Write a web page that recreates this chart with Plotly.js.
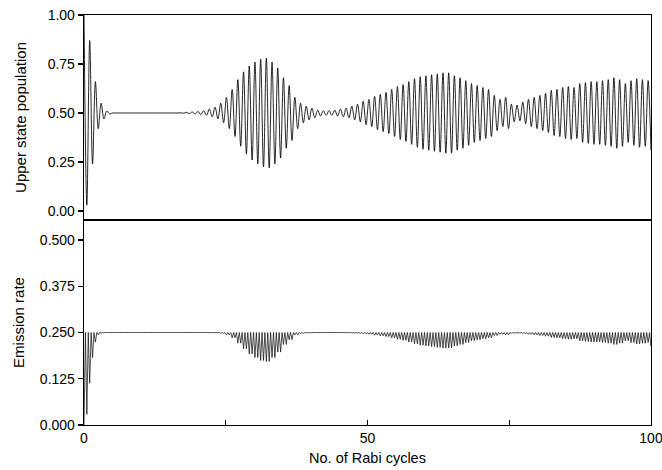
<!DOCTYPE html>
<html>
<head>
<meta charset="utf-8">
<script src="https://cdn.plot.ly/plotly-3.0.1.min.js"></script>
<style>
html,body{margin:0;padding:0;background:#fff}
#chart{width:662px;height:470px}
</style>
</head>
<body>
<div id="chart"></div>
<script>
// Rabi cycle index (one maximum and one minimum of the upper state population per cycle)
const cycleNo = [0,1,2,3,4,5,6,7,8,9,10,11,12,13,14,15,16,17,18,19,
  20,21,22,23,24,25,26,27,28,29,30,31,32,33,34,35,36,37,38,39,
  40,41,42,43,44,45,46,47,48,49,50,51,52,53,54,55,56,57,58,59,
  60,61,62,63,64,65,66,67,68,69,70,71,72,73,74,75,76,77,78,79,
  80,81,82,83,84,85,86,87,88,89,90,91,92,93,94,95,96,97,98,99];

// Upper state population at the maximum of each cycle
const popAtMax = [1.00,0.87,0.66,0.55,0.51,0.50,0.50,0.50,0.50,0.50,
  0.50,0.50,0.50,0.50,0.50,0.50,0.50,0.501,0.503,0.505,
  0.508,0.512,0.52,0.53,0.55,0.58,0.62,0.67,0.71,0.74,
  0.76,0.775,0.78,0.76,0.73,0.68,0.64,0.58,0.55,0.535,
  0.525,0.515,0.512,0.512,0.515,0.52,0.525,0.535,0.545,0.56,
  0.57,0.585,0.595,0.605,0.62,0.635,0.645,0.66,0.675,0.685,
  0.69,0.695,0.70,0.705,0.705,0.69,0.68,0.665,0.65,0.64,
  0.63,0.62,0.59,0.57,0.58,0.545,0.54,0.555,0.57,0.58,
  0.59,0.60,0.615,0.62,0.63,0.635,0.63,0.65,0.655,0.66,
  0.66,0.665,0.67,0.68,0.67,0.65,0.665,0.675,0.67,0.665];

// Upper state population at the minimum of each cycle
const popAtMin = [0.03,0.24,0.42,0.47,0.495,0.50,0.50,0.50,0.50,0.50,
  0.50,0.50,0.50,0.50,0.50,0.50,0.50,0.499,0.497,0.495,
  0.492,0.488,0.48,0.47,0.45,0.42,0.38,0.33,0.29,0.26,
  0.24,0.225,0.22,0.24,0.27,0.32,0.36,0.42,0.45,0.465,
  0.475,0.485,0.488,0.488,0.485,0.48,0.475,0.465,0.455,0.44,
  0.43,0.415,0.405,0.395,0.38,0.365,0.355,0.34,0.325,0.315,
  0.31,0.305,0.30,0.295,0.295,0.31,0.32,0.335,0.35,0.36,
  0.37,0.38,0.41,0.43,0.42,0.455,0.46,0.445,0.43,0.42,
  0.41,0.40,0.385,0.38,0.37,0.365,0.37,0.35,0.345,0.34,
  0.34,0.335,0.33,0.32,0.33,0.35,0.335,0.325,0.33,0.31];

// Emission rate at the population maximum of each cycle
const emissionAtMax = [0.000,0.113,0.224,0.248,0.250,0.250,0.250,0.250,0.250,0.250,
  0.250,0.250,0.250,0.250,0.250,0.250,0.250,0.250,0.250,0.250,
  0.2499,0.2499,0.2496,0.2491,0.2475,0.2436,0.2356,0.2211,0.2059,0.1924,
  0.1824,0.1744,0.1716,0.1824,0.1971,0.2176,0.2304,0.2436,0.2475,0.2488,
  0.2494,0.2498,0.2499,0.2499,0.2498,0.2496,0.2494,0.2488,0.248,0.2464,
  0.2451,0.2428,0.241,0.239,0.2356,0.2318,0.229,0.2244,0.2194,0.2158,
  0.2139,0.212,0.21,0.208,0.208,0.2139,0.2176,0.2228,0.2275,0.2304,
  0.2331,0.2356,0.2419,0.2451,0.2436,0.248,0.2484,0.247,0.2451,0.2436,
  0.2419,0.24,0.2368,0.2356,0.2331,0.2318,0.2331,0.2275,0.226,0.2244,
  0.2244,0.2228,0.2211,0.2176,0.2211,0.2275,0.2228,0.2194,0.2211,0.2228];

// Emission rate at the population minimum of each cycle
const emissionAtMin = [0.029,0.182,0.244,0.249,0.250,0.250,0.250,0.250,0.250,0.250,
  0.250,0.250,0.250,0.250,0.250,0.250,0.250,0.250,0.250,0.250,
  0.2499,0.2499,0.2496,0.2491,0.2475,0.2436,0.2356,0.2211,0.2059,0.1924,
  0.1824,0.1744,0.1716,0.1824,0.1971,0.2176,0.2304,0.2436,0.2475,0.2488,
  0.2494,0.2498,0.2499,0.2499,0.2498,0.2496,0.2494,0.2488,0.248,0.2464,
  0.2451,0.2428,0.241,0.239,0.2356,0.2318,0.229,0.2244,0.2194,0.2158,
  0.2139,0.212,0.21,0.208,0.208,0.2139,0.2176,0.2228,0.2275,0.2304,
  0.2331,0.2356,0.2419,0.2451,0.2436,0.248,0.2484,0.247,0.2451,0.2436,
  0.2419,0.24,0.2368,0.2356,0.2331,0.2318,0.2331,0.2275,0.226,0.2244,
  0.2244,0.2228,0.2211,0.2176,0.2211,0.2275,0.2228,0.2194,0.2211,0.2139];

// Emission rate where the population crosses one half
const emissionAtCrossing = 0.25;

const xTickVals = [0, 25, 50, 75, 100];
const xTickText = ['0', '', '50', '', '100'];
const popTickVals = [0, 0.25, 0.5, 0.75, 1.0];
const emissionTickVals = [0, 0.125, 0.25, 0.375, 0.5];

const rabiPeriod = 1.005;

const xTop = [], yTop = [], xBot = [], yBot = [];
cycleNo.forEach((k, i) => {
  xTop.push(k * rabiPeriod, (k + 0.5) * rabiPeriod);
  yTop.push(popAtMax[i], popAtMin[i]);
  xBot.push(k * rabiPeriod, (k + 0.25) * rabiPeriod, (k + 0.5) * rabiPeriod, (k + 0.75) * rabiPeriod);
  yBot.push(emissionAtMax[i], emissionAtCrossing, emissionAtMin[i], emissionAtCrossing);
});

const FONT = 'Liberation Sans, Arial, Helvetica, sans-serif';

const traces = [
  {x: xTop, y: yTop, xaxis: 'x2', yaxis: 'y2', type: 'scatter', mode: 'lines',
   line: {color: '#000', width: 0.85, shape: 'spline', smoothing: 1, simplify: false}, hoverinfo: 'skip'},
  {x: xBot, y: yBot, xaxis: 'x', yaxis: 'y', type: 'scatter', mode: 'lines',
   line: {color: '#111', width: 0.75, simplify: false}, hoverinfo: 'skip'}
];

const common = {showline: true, mirror: true, linecolor: '#000', linewidth: 1.3,
  showgrid: false, zeroline: false, tickcolor: '#000', tickwidth: 1.2, ticklen: 5,
  ticklabeloverflow: 'allow',
  tickfont: {family: FONT, size: 14, color: '#000'}};

const layout = {
  width: 662, height: 470,
  margin: {l: 84, r: 11, t: 15, b: 45},
  paper_bgcolor: '#fff', plot_bgcolor: '#fff',
  showlegend: false,
  font: {family: FONT, size: 14, color: '#000'},
  xaxis: Object.assign({}, common, {
    domain: [0, 1], anchor: 'y', range: [-0.0001, 100.001],
    ticks: 'inside', tickvals: xTickVals, ticktext: xTickText,
    title: {text: 'No. of Rabi cycles', font: {family: FONT, size: 14.5, color: '#000'}, standoff: 7}
  }),
  yaxis: Object.assign({}, common, {
    domain: [0, 0.5], anchor: 'x', range: [0, 0.554],
    ticks: 'outside', tickvals: emissionTickVals, tickformat: '.3f',
    title: {text: 'Emission rate', font: {family: FONT, size: 15, color: '#000'}, standoff: 11}
  }),
  xaxis2: Object.assign({}, common, {
    domain: [0, 1], anchor: 'y2', range: [-0.0001, 100.001],
    ticks: '', showticklabels: false
  }),
  yaxis2: Object.assign({}, common, {
    domain: [0.5, 1], anchor: 'x2', range: [-0.046, 1.0],
    ticks: 'outside', tickvals: popTickVals, tickformat: '.2f',
    title: {text: 'Upper state population', font: {family: FONT, size: 15, color: '#000'}, standoff: 17}
  })
};

Plotly.newPlot('chart', traces, layout, {staticPlot: true, displayModeBar: false});
</script>
</body>
</html>
